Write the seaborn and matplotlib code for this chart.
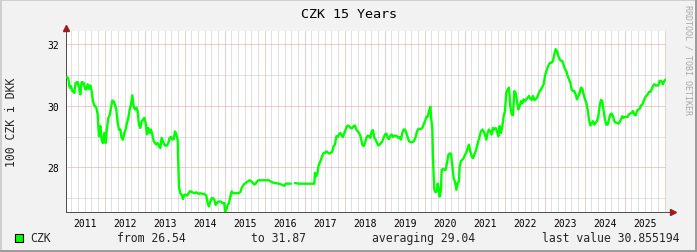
import numpy as np
import pandas as pd
import matplotlib
matplotlib.use("Agg")
import matplotlib.pyplot as plt
from matplotlib.lines import Line2D
from matplotlib.patches import Rectangle
from matplotlib.ticker import FixedLocator, FuncFormatter, NullFormatter
import seaborn as sns

# ---------------- data (decimal year, 100 CZK in DKK) ----------------
dates = [
    2011.060, 2011.088, 2011.121, 2011.154, 2011.188, 2011.238, 2011.271, 2011.321, 2011.354, 2011.388,
    2011.421, 2011.471, 2011.504, 2011.538, 2011.571, 2011.604, 2011.638, 2011.671, 2011.704, 2011.738,
    2011.788, 2011.821, 2011.854, 2011.888, 2011.921, 2011.954, 2011.988, 2012.021, 2012.054, 2012.088,
    2012.121, 2012.154, 2012.188, 2012.221, 2012.254, 2012.288, 2012.321, 2012.354, 2012.388, 2012.421,
    2012.454, 2012.488, 2012.521, 2012.554, 2012.588, 2012.621, 2012.654, 2012.688, 2012.721, 2012.754,
    2012.788, 2012.821, 2012.854, 2012.888, 2012.921, 2012.954, 2012.988, 2013.021, 2013.054, 2013.088,
    2013.121, 2013.154, 2013.188, 2013.221, 2013.254, 2013.288, 2013.321, 2013.354, 2013.388, 2013.421,
    2013.471, 2013.504, 2013.554, 2013.588, 2013.621, 2013.654, 2013.688, 2013.721, 2013.754, 2013.788,
    2013.821, 2013.838, 2013.854, 2013.888, 2013.921, 2013.954, 2013.988, 2014.021, 2014.054, 2014.088,
    2014.121, 2014.154, 2014.188, 2014.238, 2014.288, 2014.338, 2014.388, 2014.438, 2014.488, 2014.538,
    2014.571, 2014.604, 2014.638, 2014.671, 2014.704, 2014.738, 2014.771, 2014.804, 2014.838, 2014.871,
    2014.904, 2014.938, 2014.988, 2015.004, 2015.038, 2015.071, 2015.104, 2015.138, 2015.171, 2015.204,
    2015.238, 2015.288, 2015.338, 2015.388, 2015.421, 2015.471, 2015.521, 2015.571, 2015.621, 2015.671,
    2015.704, 2015.738, 2015.771, 2015.804, 2015.838, 2015.888, 2015.938, 2016.104, 2016.188, 2016.271,
    2016.354, 2016.421, 2016.488, 2016.521, 2016.571, 2016.654, 2016.700, 2016.754, 2016.854, 2016.938,
    2017.104, 2017.238, 2017.254, 2017.288, 2017.321, 2017.338, 2017.371, 2017.404, 2017.438, 2017.471,
    2017.504, 2017.538, 2017.571, 2017.604, 2017.654, 2017.688, 2017.721, 2017.754, 2017.788, 2017.821,
    2017.854, 2017.888, 2017.921, 2017.954, 2017.988, 2018.021, 2018.054, 2018.088, 2018.121, 2018.154,
    2018.188, 2018.221, 2018.254, 2018.288, 2018.321, 2018.354, 2018.388, 2018.438, 2018.471, 2018.504,
    2018.538, 2018.571, 2018.604, 2018.638, 2018.671, 2018.704, 2018.738, 2018.771, 2018.804, 2018.838,
    2018.871, 2018.904, 2018.938, 2018.971, 2019.004, 2019.038, 2019.071, 2019.104, 2019.138, 2019.171,
    2019.204, 2019.238, 2019.271, 2019.304, 2019.338, 2019.371, 2019.404, 2019.438, 2019.471, 2019.504,
    2019.538, 2019.571, 2019.604, 2019.638, 2019.671, 2019.704, 2019.738, 2019.771, 2019.804, 2019.838,
    2019.871, 2019.904, 2019.938, 2019.971, 2020.004, 2020.038, 2020.071, 2020.104, 2020.138, 2020.154,
    2020.171, 2020.188, 2020.204, 2020.221, 2020.238, 2020.271, 2020.304, 2020.321, 2020.354, 2020.371,
    2020.404, 2020.421, 2020.454, 2020.488, 2020.521, 2020.554, 2020.588, 2020.621, 2020.654, 2020.688,
    2020.721, 2020.754, 2020.788, 2020.821, 2020.854, 2020.871, 2020.904, 2020.938, 2020.971, 2021.004,
    2021.038, 2021.071, 2021.104, 2021.138, 2021.171, 2021.204, 2021.238, 2021.271, 2021.304, 2021.338,
    2021.371, 2021.404, 2021.438, 2021.471, 2021.504, 2021.538, 2021.571, 2021.604, 2021.638, 2021.671,
    2021.704, 2021.738, 2021.771, 2021.804, 2021.838, 2021.871, 2021.904, 2021.938, 2021.971, 2022.004,
    2022.038, 2022.071, 2022.104, 2022.138, 2022.171, 2022.204, 2022.238, 2022.271, 2022.304, 2022.338,
    2022.371, 2022.404, 2022.438, 2022.471, 2022.504, 2022.538, 2022.571, 2022.604, 2022.638, 2022.671,
    2022.704, 2022.738, 2022.771, 2022.804, 2022.838, 2022.871, 2022.904, 2022.938, 2022.971, 2023.004,
    2023.038, 2023.071, 2023.104, 2023.138, 2023.171, 2023.204, 2023.238, 2023.271, 2023.304, 2023.338,
    2023.371, 2023.404, 2023.438, 2023.504, 2023.538, 2023.571, 2023.604, 2023.638, 2023.671, 2023.704,
    2023.738, 2023.771, 2023.804, 2023.838, 2023.871, 2023.904, 2023.938, 2023.971, 2024.004, 2024.038,
    2024.071, 2024.104, 2024.138, 2024.171, 2024.204, 2024.238, 2024.271, 2024.304, 2024.338, 2024.371,
    2024.404, 2024.438, 2024.471, 2024.504, 2024.538, 2024.571, 2024.604, 2024.638, 2024.671, 2024.704,
    2024.738, 2024.771, 2024.804, 2024.838, 2024.871, 2024.904, 2024.938, 2024.971, 2025.004, 2025.038,
    2025.071, 2025.104, 2025.138, 2025.171, 2025.204, 2025.238, 2025.271, 2025.304, 2025.338, 2025.371,
    2025.404, 2025.438, 2025.471, 2025.504, 2025.538, 2025.571, 2025.604, 2025.638, 2025.671, 2025.704,
    2025.738, 2025.771, 2025.804, 2025.838, 2025.871, 2025.904, 2025.938, 2025.954, 2025.988, 2026.021,
]
rate = [
    30.93, 30.88, 30.59, 30.64, 30.48, 30.42, 30.75, 30.77, 30.59, 30.37,
    30.77, 30.75, 30.55, 30.53, 30.70, 30.55, 30.66, 30.48, 30.15, 30.01,
    29.94, 29.72, 29.01, 29.34, 28.90, 28.79, 29.12, 28.79, 29.28, 29.61,
    29.69, 29.94, 30.17, 30.15, 30.04, 29.88, 29.45, 29.23, 29.23, 28.96,
    28.90, 29.12, 29.23, 29.45, 29.61, 29.88, 30.04, 30.34, 29.99, 29.88,
    29.94, 29.83, 29.39, 29.28, 29.50, 29.55, 29.61, 29.45, 29.07, 29.28,
    29.12, 29.23, 29.07, 28.85, 28.79, 28.74, 28.79, 28.69, 28.63, 28.96,
    28.79, 28.71, 28.71, 28.79, 28.96, 28.99, 28.90, 28.92, 29.17, 29.07,
    28.90, 28.14, 27.38, 27.16, 27.11, 26.97, 27.11, 27.11, 27.08, 27.14,
    27.22, 27.22, 27.19, 27.16, 27.19, 27.14, 27.16, 27.14, 27.14, 27.08,
    26.84, 26.73, 26.89, 27.00, 27.00, 26.95, 26.78, 26.84, 26.89, 26.89,
    26.89, 26.84, 26.84, 26.57, 26.62, 26.78, 26.84, 27.05, 27.22, 27.16,
    27.16, 27.16, 27.16, 27.19, 27.33, 27.44, 27.49, 27.54, 27.58, 27.54,
    27.49, 27.44, 27.47, 27.54, 27.58, 27.58, 27.58, 27.58, 27.51, 27.49,
    27.47, 27.44, 27.40, 27.47, 27.47, 27.47, np.nan, 27.49, 27.47, 27.47,
    27.47, 27.47, 27.82, 27.71, 27.84, 28.03, 28.14, 28.25, 28.38, 28.47,
    28.47, 28.52, 28.49, 28.45, 28.47, 28.52, 28.69, 28.74, 29.01, 28.99,
    29.07, 29.12, 29.03, 28.99, 29.12, 29.23, 29.34, 29.36, 29.32, 29.27,
    29.28, 29.34, 29.36, 29.23, 29.17, 29.12, 29.03, 28.74, 28.69, 28.79,
    28.96, 29.03, 29.01, 28.96, 29.17, 29.21, 28.96, 28.90, 28.79, 28.71,
    28.74, 28.79, 28.85, 28.96, 29.07, 29.10, 28.96, 28.92, 29.03, 29.07,
    28.99, 29.03, 29.03, 29.01, 28.96, 28.99, 28.90, 29.12, 29.23, 29.23,
    29.12, 28.99, 28.85, 28.82, 28.82, 28.82, 28.88, 28.99, 29.17, 29.25,
    29.25, 29.25, 29.28, 29.39, 29.50, 29.64, 29.64, 29.83, 29.97, 29.66,
    29.45, 29.23, 28.36, 27.71, 27.27, 27.19, 27.22, 27.47, 27.27, 27.05,
    27.27, 27.92, 27.95, 27.92, 27.92, 28.14, 28.41, 28.45, 28.45, 28.03,
    27.65, 27.54, 27.27, 27.49, 27.54, 28.03, 28.20, 28.25, 28.30, 28.41,
    28.47, 28.63, 28.74, 28.52, 28.36, 28.30, 28.41, 28.52, 28.69, 28.85,
    29.01, 29.17, 29.23, 29.17, 29.07, 28.90, 29.12, 29.23, 29.17, 29.07,
    29.28, 29.23, 29.28, 29.17, 29.01, 29.34, 29.12, 29.34, 29.66, 29.83,
    30.42, 30.53, 30.59, 29.99, 29.72, 29.69, 30.48, 30.42, 30.15, 29.88,
    29.99, 30.15, 30.08, 30.21, 30.15, 30.21, 30.26, 30.32, 30.23, 30.19,
    30.32, 30.19, 30.21, 30.26, 30.37, 30.48, 30.53, 30.62, 30.70, 30.97,
    31.13, 31.24, 31.35, 31.40, 31.40, 31.46, 31.67, 31.84, 31.78, 31.62,
    31.51, 31.46, 31.46, 31.19, 31.13, 30.97, 30.86, 30.75, 30.53, 30.48,
    30.48, 30.37, 30.21, 30.32, 30.42, 30.59, 30.56, 30.37, 30.21, 30.10,
    29.88, 29.56, 29.36, 29.42, 29.50, 29.39, 29.45, 29.50, 29.66, 29.99,
    30.19, 30.15, 29.83, 29.56, 29.39, 29.39, 29.56, 29.72, 29.75, 29.66,
    29.50, 29.45, 29.45, 29.42, 29.47, 29.56, 29.66, 29.61, 29.64, 29.64,
    29.64, 29.72, 29.75, 29.77, 29.83, 29.72, 29.69, 29.83, 29.88, 29.90,
    30.01, 30.04, 30.15, 30.26, 30.32, 30.37, 30.45, 30.45, 30.53, 30.64,
    30.70, 30.66, 30.66, 30.66, 30.81, 30.81, 30.75, 30.70, 30.81, 30.855,
]

series_name = "CZK"
title = "CZK 15 Years"
y_label = "100 CZK i DKK"
year_labels = [str(y) for y in range(2011, 2026)]
stat_from, stat_to, stat_avg, stat_last = "26.54", "31.87", "29.04", "30.855194"

# ---------------- figure ----------------
W, H = 697, 253
sns.set_style("white")
plt.rcParams["font.family"] = ["DejaVu Sans Mono", "DejaVu Sans"]

fig = plt.figure(figsize=(W / 100, H / 100), dpi=100, facecolor="#f2f2f2")
L, R, T, B = 66, 666, 31.7, 213.3
ax = fig.add_axes([L / W, 1 - B / H, (R - L) / W, (B - T) / H])
ax.set_facecolor("white")

df = pd.DataFrame({"date": dates, "rate": rate})
df["seg"] = df["rate"].isna().cumsum()
df = df.dropna()
for _, part in df.groupby("seg"):
    sns.lineplot(data=part, x="date", y="rate", ax=ax, color="#00ff00",
                 linewidth=1.7, estimator=None, sort=False, zorder=5)

ax.set_xlim(2011.03, 2026.03)
ax.set_ylim(26.54, 32.44)
ax.set_xlabel("")
ax.set_ylabel("")

# grid: gray minor every 2 months / 1 unit, red major at year start / 2 units
px = 0.72
year_starts = list(range(2012, 2027))
minor_x = [y + k / 6 for y in range(2011, 2027) for k in range(6)]
minor_x = [m for m in minor_x if 2011.03 <= m <= 2026.03]
ax.xaxis.set_major_locator(FixedLocator(year_starts))
ax.xaxis.set_minor_locator(FixedLocator(minor_x))
mid_years = {round(int(l) + 0.5, 2): l for l in year_labels}
ax.xaxis.set_major_formatter(NullFormatter())
ax.xaxis.set_minor_formatter(FuncFormatter(lambda v, pos: mid_years.get(round(v, 2), "")))

ax.yaxis.set_major_locator(FixedLocator([28, 30, 32]))
ax.yaxis.set_minor_locator(FixedLocator([27, 29, 31]))
ax.yaxis.set_major_formatter(FuncFormatter(lambda v, pos: f"{v:.0f}"))
ax.yaxis.set_minor_formatter(NullFormatter())

ax.grid(which="minor", color="#c4c4c4", linestyle=(0, (1, 1)), linewidth=px, zorder=1)
ax.grid(which="major", color="#e89a9a", linestyle=(0, (1, 1)), linewidth=px, zorder=2)
ax.set_axisbelow(True)

ax.tick_params(axis="x", which="major", length=3, width=px, color="#e89a9a", direction="out")
ax.tick_params(axis="x", which="minor", length=0, pad=3.8, labelsize=7, labelcolor="#000000")
ax.tick_params(axis="y", which="major", length=2.2, width=px, color="#d09090",
               direction="out", pad=2.5, labelsize=7, labelcolor="#000000")
ax.tick_params(axis="y", which="minor", length=0)

for s in ["top", "right"]:
    ax.spines[s].set_visible(False)
for s in ["left", "bottom"]:
    ax.spines[s].set_color("#505050")
    ax.spines[s].set_linewidth(px)

# axis arrows
arrow_c = "#9b1c1c"
ax.add_line(Line2D([1.0, 1.008], [0, 0], transform=ax.transAxes, color="#505050",
                   linewidth=px, clip_on=False))
ax.plot([1.011], [0], marker=">", markersize=4.5, color=arrow_c, transform=ax.transAxes,
        clip_on=False, zorder=6)
ax.plot([0], [1.016], marker="^", markersize=4.5, color=arrow_c, transform=ax.transAxes,
        clip_on=False, zorder=6)

# texts
fig.text(349 / W, 1 - 14 / H, title, ha="center", va="center", fontsize=9.6, color="#000000")
fig.text(12 / W, 1 - 122 / H, y_label, ha="center", va="center", rotation=90, fontsize=8.3)
fig.text(688 / W, 1 - 60 / H, "RRDTOOL / TOBI OETIKER", ha="center", va="center",
         rotation=270, fontsize=6, color="#a8a8a8")

# legend line
fig.patches.append(Rectangle((15 / W, 1 - 243 / H), 8 / W, 8 / H, transform=fig.transFigure,
                             facecolor="#00ff00", edgecolor="#000000", linewidth=0.8))
ly = 1 - 239 / H
fig.text(30 / W, ly, series_name, ha="left", va="center", fontsize=8.3)
fig.text(117 / W, ly, f"from {stat_from}", ha="left", va="center", fontsize=8.3)
fig.text(251 / W, ly, f"to {stat_to}", ha="left", va="center", fontsize=8.3)
fig.text(372 / W, ly, f"averaging {stat_avg}", ha="left", va="center", fontsize=8.3)
fig.text(542 / W, ly, f"last value {stat_last}", ha="left", va="center", fontsize=8.3)

# image border (light top/left, dark bottom/right)
def fline(x0, y0, x1, y1, c):
    fig.add_artist(Line2D([x0 / W, x1 / W], [1 - y0 / H, 1 - y1 / H], transform=fig.transFigure,
                          color=c, linewidth=1.44, solid_capstyle="butt"))

fline(0, 1, W, 1, "#cfcfcf")
fline(1, 0, 1, H, "#cfcfcf")
fline(0, H - 1, W, H - 1, "#9c9c9c")
fline(W - 1, 0, W - 1, H, "#9c9c9c")

fig.savefig("out.png", dpi=100, facecolor=fig.get_facecolor())
